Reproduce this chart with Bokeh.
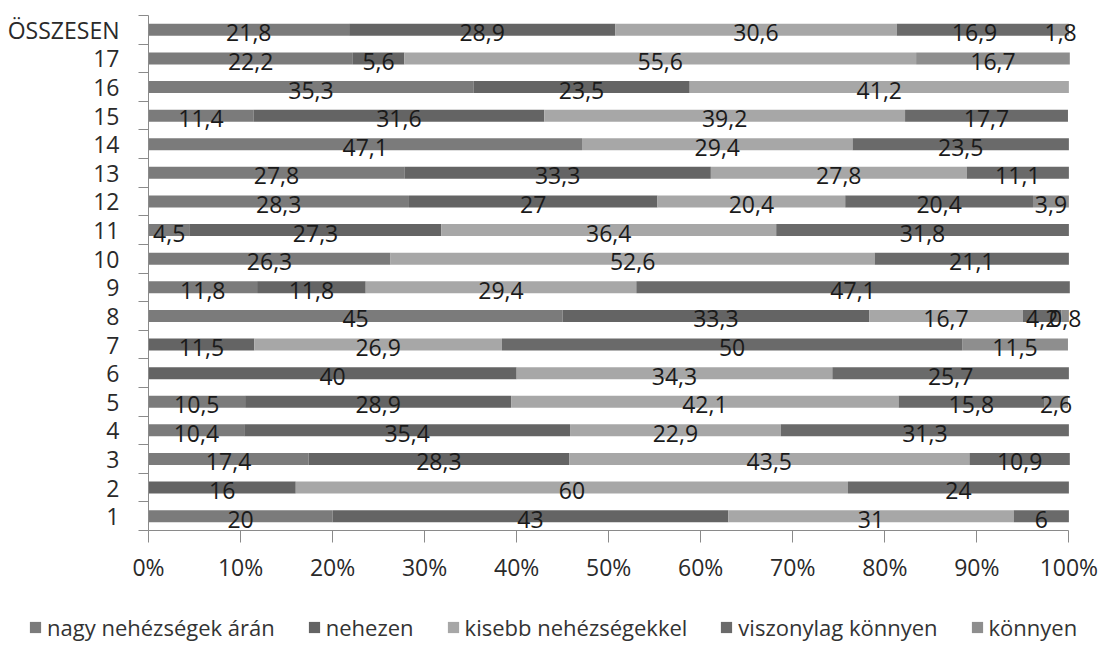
from bokeh.plotting import figure
from bokeh.layouts import column
from bokeh.models import (ColumnDataSource, Range1d, FixedTicker, LinearAxis,
                          Legend, LegendItem)
from bokeh.core.properties import value
from bokeh.embed import file_html
from bokeh.resources import INLINE

rows = ["1", "2", "3", "4", "5", "6", "7", "8", "9", "10", "11", "12", "13",
        "14", "15", "16", "17", "ÖSSZESEN"]
series = ["nagy nehézségek árán", "nehezen", "kisebb nehézségekkel",
          "viszonylag könnyen", "könnyen"]
nagy = [20, 0, 17.4, 10.4, 10.5, 0, 0, 45, 11.8, 26.3, 4.5, 28.3, 27.8, 47.1, 11.4, 35.3, 22.2, 21.8]
nehezen = [43, 16, 28.3, 35.4, 28.9, 40, 11.5, 33.3, 11.8, 0, 27.3, 27, 33.3, 0, 31.6, 23.5, 5.6, 28.9]
kisebb = [31, 60, 43.5, 22.9, 42.1, 34.3, 26.9, 16.7, 29.4, 52.6, 36.4, 20.4, 27.8, 29.4, 39.2, 41.2, 55.6, 30.6]
viszonylag = [6, 24, 10.9, 31.3, 15.8, 25.7, 50, 4.2, 47.1, 21.1, 31.8, 20.4, 11.1, 23.5, 17.7, 0, 0, 16.9]
konnyen = [0, 0, 0, 0, 2.6, 0, 11.5, 0.8, 0, 0, 0, 3.9, 0, 0, 0, 0, 16.7, 1.8]
x_ticks = [0, 10, 20, 30, 40, 50, 60, 70, 80, 90, 100]
x_tick_labels = ["0%", "10%", "20%", "30%", "40%", "50%", "60%", "70%", "80%", "90%", "100%"]

colors = ["#7b7b7b", "#646464", "#a7a7a7", "#6a6a6a", "#8e8e8e"]
FONT = "Open Sans"

all_series = [nagy, nehezen, kisebb, viszonylag, konnyen]
keys = ["s0", "s1", "s2", "s3", "s4"]
ypos = list(range(1, len(rows) + 1))
data = {"y": ypos}
for k, s in zip(keys, all_series):
    data[k] = s
source = ColumnDataSource(data)

p = figure(frame_width=948, frame_height=515,
           x_range=Range1d(0, 103), y_range=Range1d(0.5, len(rows) + 0.5),
           output_backend="svg", toolbar_location=None,
           y_axis_type=None, x_axis_type=None,
           min_border_left=148, min_border_right=4, min_border_top=15,
           min_border_bottom=60)
p.outline_line_color = None
p.background_fill_color = "white"
p.border_fill_color = "white"
p.frame_align = False

renderers = p.hbar_stack(keys, y="y", height=0.42, color=colors, source=source,
                         line_color=None)

# x axis
xaxis = LinearAxis(ticker=FixedTicker(ticks=x_ticks), bounds=(0, 100))
xaxis.major_label_overrides = {t: l for t, l in zip(x_ticks, x_tick_labels)}
xaxis.axis_line_color = "#8a8a8a"
xaxis.major_tick_line_color = "#8a8a8a"
xaxis.major_tick_out = 12
xaxis.major_tick_in = 0
xaxis.minor_tick_line_color = None
xaxis.major_label_standoff = 8
xaxis.major_label_text_font = FONT
xaxis.major_label_text_font_size = "23px"
xaxis.major_label_text_color = "#2a2a2a"
p.add_layout(xaxis, "below")

# y axis: boundary ticks
yb = LinearAxis(ticker=FixedTicker(ticks=[i + 0.5 for i in range(len(rows) + 1)]))
yb.major_label_overrides = {i + 0.5: "" for i in range(len(rows) + 1)}
yb.axis_line_color = "#8a8a8a"
yb.major_tick_line_color = "#8a8a8a"
yb.major_tick_out = 10
yb.major_tick_in = 0
yb.minor_tick_line_color = None
yb.major_label_standoff = 0
p.add_layout(yb, "left")

# y axis: labels
yl = LinearAxis(ticker=FixedTicker(ticks=ypos))
yl.major_label_overrides = {i: r for i, r in zip(ypos, rows)}
yl.axis_line_color = None
yl.major_tick_line_color = None
yl.minor_tick_line_color = None
yl.major_tick_out = 0
yl.major_label_standoff = 19
yl.major_label_text_font = FONT
yl.major_label_text_font_size = "23px"
yl.major_label_text_color = "#2a2a2a"
p.add_layout(yl, "left")

# grid
p.xgrid.ticker = FixedTicker(ticks=x_ticks)
p.xgrid.grid_line_color = "#b4b4b4"
p.ygrid.grid_line_color = None

# data labels
lx, ly, lt = [], [], []
for i, yv in enumerate(ypos):
    cum = 0.0
    for s in all_series:
        v = s[i]
        if v > 0:
            lx.append(cum + v / 2.0)
            ly.append(yv)
            lt.append(f"{v:g}".replace(".", ","))
        cum += v
lsrc = ColumnDataSource(dict(x=lx, y=ly, t=lt))
p.text(x="x", y="y", text="t", source=lsrc, text_align="center",
       text_baseline="middle", y_offset=3, text_font=value(FONT),
       text_font_size="23px", text_color="#1a1a1a")

# legend in its own strip below the chart (hidden renderers only feed the legend)
lf = figure(width=1100, height=63, x_range=Range1d(0, 1), y_range=Range1d(0, 1),
            output_backend="svg", toolbar_location=None,
            x_axis_type=None, y_axis_type=None,
            min_border_left=0, min_border_right=0, min_border_top=0,
            min_border_bottom=0)
lf.frame_align = False
lf.outline_line_color = None
lf.xgrid.grid_line_color = None
lf.ygrid.grid_line_color = None
legend_renderers = lf.hbar_stack(keys, y="y", height=0.42, color=colors,
                                 source=source, line_color=None)
for r in legend_renderers:
    r.visible = False
legend = Legend(items=[LegendItem(label=n, renderers=[r])
                       for n, r in zip(series, legend_renderers)],
                orientation="horizontal", location=(28, 11))
legend.label_text_font = FONT
legend.label_text_font_size = "22px"
legend.label_text_color = "#333333"
legend.glyph_width = 14
legend.glyph_height = 14
legend.label_standoff = 5
legend.spacing = 32
legend.padding = 0
legend.margin = 0
legend.border_line_color = None
legend.background_fill_alpha = 0
legend.inactive_fill_alpha = 0
lf.add_layout(legend, "center")

open("out.html", "w").write(file_html(column(p, lf), INLINE))
